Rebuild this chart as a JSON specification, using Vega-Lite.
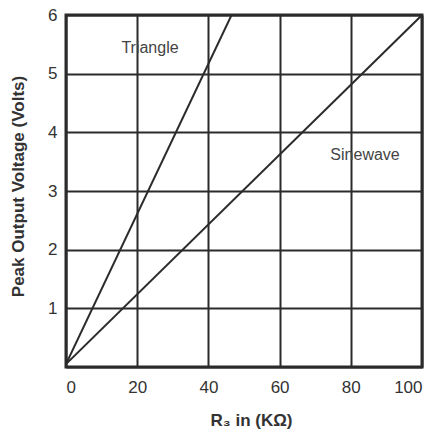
{
  "$schema": "https://vega.github.io/schema/vega-lite/v6.json",
  "width": 356,
  "height": 352,
  "autosize": {"type": "none"},
  "padding": {"left": 66, "top": 15, "right": 17, "bottom": 66},
  "background": "white",
  "config": {
    "view": {"stroke": "#2b2b2b", "strokeWidth": 3},
    "font": "Liberation Sans",
    "axis": {
      "grid": true,
      "gridColor": "#2b2b2b",
      "gridWidth": 2,
      "gridOpacity": 1,
      "domain": false,
      "ticks": false,
      "labelFont": "Liberation Sans",
      "labelFontSize": 17,
      "labelColor": "#333",
      "titleFont": "Liberation Sans",
      "titleFontSize": 17,
      "titleFontWeight": "bold",
      "titleColor": "#333"
    }
  },
  "datasets": {
    "lines": [
      {"series": "Triangle", "r": 0, "v": 0.05},
      {"series": "Triangle", "r": 46.5, "v": 6},
      {"series": "Sinewave", "r": 0, "v": 0.05},
      {"series": "Sinewave", "r": 100, "v": 6}
    ],
    "labels": [
      {"text": "Triangle", "r": 23.6, "v": 5.44},
      {"text": "Sinewave", "r": 84, "v": 3.61}
    ]
  },
  "layer": [
    {
      "data": {"name": "lines"},
      "mark": {"type": "line", "color": "#2b2b2b", "strokeWidth": 2, "clip": true},
      "encoding": {
        "x": {
          "field": "r", "type": "quantitative",
          "scale": {"domain": [0, 100], "nice": false},
          "axis": {"values": [0, 20, 40, 60, 80, 100], "format": "d", "title": "R₃ in (KΩ)", "labelPadding": 12, "titleX": 185, "titleY": 53, "titleBaseline": "middle"}
        },
        "y": {
          "field": "v", "type": "quantitative",
          "scale": {"domain": [0, 6], "nice": false},
          "axis": {"values": [0, 1, 2, 3, 4, 5, 6], "format": "d", "labelExpr": "datum.value == 0 ? '' : datum.label", "title": "Peak Output Voltage (Volts)", "labelPadding": 9, "titleX": -48, "titleY": 171, "titleBaseline": "middle"}
        },
        "detail": {"field": "series"}
      }
    },
    {
      "data": {"name": "labels"},
      "mark": {"type": "text", "fontSize": 16, "color": "#444", "font": "Liberation Sans"},
      "encoding": {
        "x": {"field": "r", "type": "quantitative"},
        "y": {"field": "v", "type": "quantitative"},
        "text": {"field": "text"}
      }
    }
  ]
}
